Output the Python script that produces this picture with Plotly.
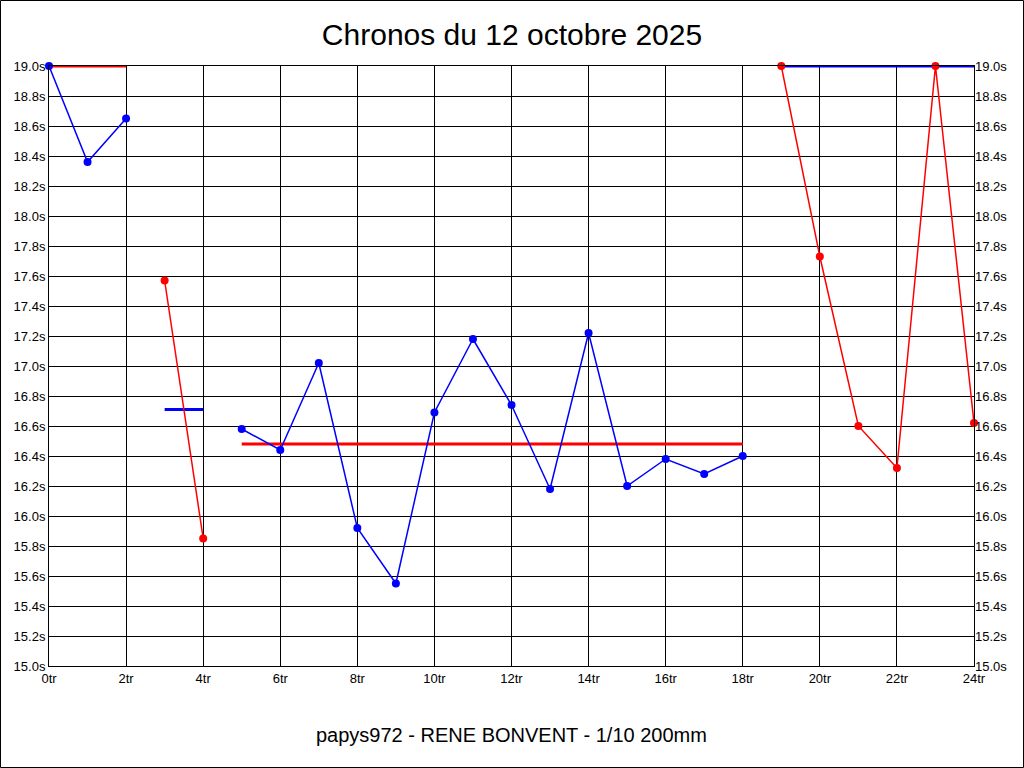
import plotly.graph_objects as go

# ---- data ----
seg1_x = [0, 1, 2]
seg1_y = [19.0, 18.36, 18.65]
seg2_x = [3, 4]
seg2_y = [17.57, 15.85]
seg3_x = [5, 6, 7, 8, 9, 10, 11, 12, 13, 14, 15, 16, 17, 18]
seg3_y = [16.58, 16.44, 17.02, 15.92, 15.55, 16.69, 17.18, 16.74, 16.18, 17.22, 16.20, 16.38, 16.28, 16.40]
seg4_x = [19, 20, 21, 22, 23, 24]
seg4_y = [19.0, 17.73, 16.60, 16.32, 19.0, 16.62]

avg_x = [[0, 2], [3, 4], [5, 18], [19, 24]]
avg_y = [19.0, 16.71, 16.48, 19.0]

title_text = "Chronos du 12 octobre 2025"
footer_text = "papys972 - RENE BONVENT - 1/10 200mm"

BLUE = "#0000FF"
RED = "#FF0000"
FONT = "Liberation Sans, Arial, sans-serif"

series = [(seg1_x, seg1_y, BLUE), (seg2_x, seg2_y, RED), (seg3_x, seg3_y, BLUE), (seg4_x, seg4_y, RED)]
avg_colors = [RED, BLUE, RED, BLUE]

fig = go.Figure()
for (xs, ys), c in zip(zip(avg_x, [[v, v] for v in avg_y]), avg_colors):
    fig.add_trace(go.Scatter(x=xs, y=ys, mode="lines", line=dict(color=c, width=3),
                             hoverinfo="skip", showlegend=False, cliponaxis=False))
for xs, ys, c in series:
    fig.add_trace(go.Scatter(x=xs, y=ys, mode="lines+markers",
                             line=dict(color=c, width=1.5),
                             marker=dict(color=c, size=8),
                             showlegend=False, cliponaxis=False))
# invisible trace for right axis
fig.add_trace(go.Scatter(x=[0], y=[15], yaxis="y2", mode="markers",
                         marker=dict(opacity=0), showlegend=False, hoverinfo="skip"))

L, R, T, B = 49, 50, 66, 102
W, H = 1024, 768
pw, ph = W - L - R, H - T - B

fig.update_layout(
    width=W, height=H, autosize=False,
    margin=dict(l=L, r=R, t=T, b=B, pad=0),
    paper_bgcolor="white", plot_bgcolor="white",
    font=dict(family=FONT, size=13, color="#000000"),
    title=dict(text=title_text, x=0.5, xanchor="center", y=1 - 34 / H, yanchor="middle",
               yref="container", font=dict(size=30, color="#000000", family=FONT)),
    xaxis=dict(range=[0, 24], dtick=2, tick0=0, ticksuffix="tr", showgrid=True,
               gridcolor="#000000", gridwidth=1, showline=True, linecolor="#000000",
               linewidth=1, mirror=True, ticks="", zeroline=False,
               tickfont=dict(size=13, color="#000000")),
    yaxis=dict(range=[15.0, 19.0], dtick=0.2, tick0=15.0, tickformat=".1f", ticksuffix="s",
               showgrid=True, gridcolor="#000000", gridwidth=1, showline=True,
               linecolor="#000000", linewidth=1, mirror=True, ticks="", zeroline=False,
               tickfont=dict(size=13, color="#000000")),
    yaxis2=dict(range=[15.0, 19.0], dtick=0.2, tick0=15.0, tickformat=".1f", ticksuffix="s",
                overlaying="y", side="right", showgrid=False, showline=False, ticks="",
                zeroline=False, tickfont=dict(size=13, color="#000000")),
    annotations=[dict(text=footer_text, xref="paper", yref="paper", x=0.5,
                      y=(T + ph - 735) / ph, xanchor="center", yanchor="middle",
                      showarrow=False, font=dict(size=20, color="#000000", family=FONT))],
    shapes=[dict(type="rect", xref="paper", yref="paper",
                 x0=(0.5 - L) / pw, x1=(W - 0.5 - L) / pw,
                 y0=(T + ph - (H - 0.5)) / ph, y1=(T + ph - 0.5) / ph,
                 line=dict(color="#000000", width=1), layer="below")],
)

fig.write_html("out.html", config={"displayModeBar": False},
               post_script="document.body.style.margin='0';document.body.style.overflow='hidden';")
